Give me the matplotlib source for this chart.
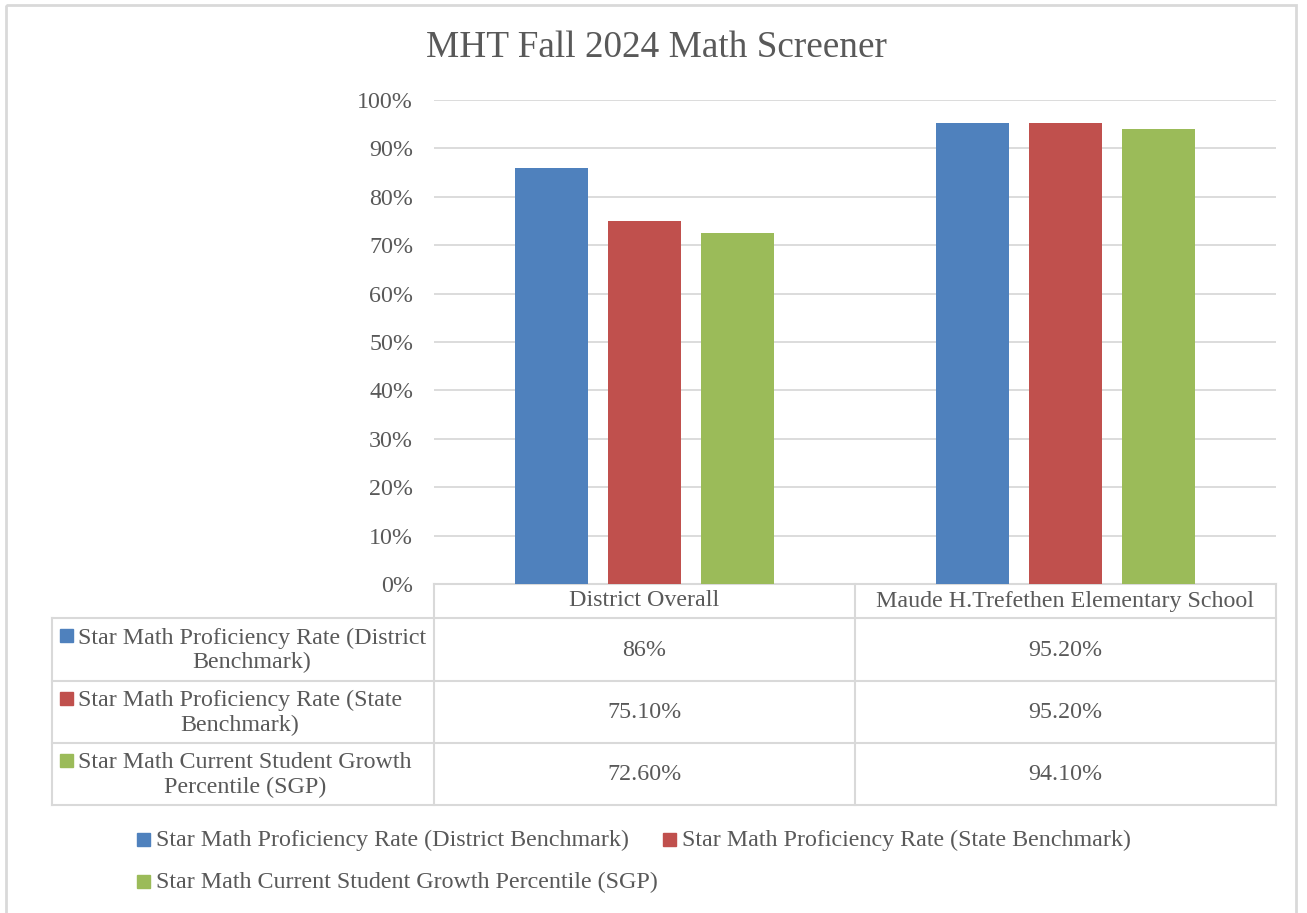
import numpy as np
import matplotlib
matplotlib.use("Agg")
import matplotlib.pyplot as plt
from matplotlib.patches import Rectangle

# -------------------------
# Data
# -------------------------
title = "MHT Fall 2024 Math Screener"
categories = ["District Overall", "Maude H.Trefethen Elementary School"]
series_names = [
    "Star Math Proficiency Rate (District Benchmark)",
    "Star Math Proficiency Rate (State Benchmark)",
    "Star Math Current Student Growth Percentile (SGP)",
]
table_names = [
    "Star Math Proficiency Rate (District\nBenchmark)",
    "Star Math Proficiency Rate (State\nBenchmark)",
    "Star Math Current Student Growth\nPercentile (SGP)",
]
district_benchmark = [0.86, 0.952]
state_benchmark = [0.751, 0.952]
sgp = [0.726, 0.941]
y_ticks = [0, 0.1, 0.2, 0.3, 0.4, 0.5, 0.6, 0.7, 0.8, 0.9, 1.0]

series = [district_benchmark, state_benchmark, sgp]
colors = ["#4F81BD", "#C0504D", "#9BBB59"]
TEXT = "#595959"
GRID = "#D9D9D9"
FS = 17.3


def fmt(v):
    s = f"{v * 100:.2f}"
    if s.endswith(".00"):
        s = s[:-3]
    return s + "%"


plt.rcParams["font.family"] = ["Liberation Serif", "DejaVu Serif"]
plt.rcParams["text.color"] = TEXT

W, H = 1307, 913
fig = plt.figure(figsize=(W / 100, H / 100), dpi=100)

# overlay in pixel coordinates for frame, table and legend
ov = fig.add_axes([0, 0, 1, 1])
ov.set_xlim(0, W)
ov.set_ylim(H, 0)
ov.axis("off")
ov.add_patch(Rectangle((6, 5), 1290, 930, fill=False, ec=GRID, lw=2))

# -------------------------
# Bar plot
# -------------------------
x0, x1, ytop, ybot = 434, 1276, 100, 584
ax = fig.add_axes([x0 / W, 1 - ybot / H, (x1 - x0) / W, (ybot - ytop) / H])
x = np.arange(len(categories))
bw = 0.175
step = 0.221
for i, (vals, c) in enumerate(zip(series, colors)):
    ax.bar(x + (i - 1) * step, vals, width=bw, color=c, zorder=3)
ax.set_xlim(-0.5, len(categories) - 0.5)
ax.set_ylim(0, 1)
ax.set_yticks(y_ticks)
ax.set_yticklabels([f"{int(round(t * 100))}%" for t in y_ticks])
ax.yaxis.grid(True, color=GRID, lw=1.3, zorder=0)
ax.set_xticks([])
ax.tick_params(axis="y", length=0, pad=15, labelsize=FS, labelcolor=TEXT)
for s in ax.spines.values():
    s.set_visible(False)
ax.patch.set_alpha(0)

fig.text(0.5 * (426 + 887) / W, 1 - 48 / H, title, ha="center", va="center",
         fontsize=26.8, color=TEXT)

# -------------------------
# Data table
# -------------------------
lw = 1.5
row_y = [618, 681, 743, 805]
xl, xm = 52, 855
ov.plot([x0, x1], [ybot, ybot], color=GRID, lw=lw)
for yy in row_y:
    ov.plot([xl, x1], [yy, yy], color=GRID, lw=lw)
ov.plot([xl, xl], [row_y[0], row_y[-1]], color=GRID, lw=lw)
for xx in (x0, xm, x1):
    ov.plot([xx, xx], [ybot, row_y[-1]], color=GRID, lw=lw)

col_c = [(x0 + xm) / 2, (xm + x1) / 2]
for j, cat in enumerate(categories):
    ov.text(col_c[j], (ybot + row_y[0]) / 2, cat, ha="center", va="center",
            fontsize=FS)
for i, (name, vals, c) in enumerate(zip(table_names, series, colors)):
    yc = (row_y[i] + row_y[i + 1]) / 2
    ov.add_patch(Rectangle((60, yc - 20), 13, 13, color=c))
    ov.text(78, yc + 1, name, ha="left", va="center", multialignment="center",
            fontsize=FS, linespacing=1.2)
    for j, v in enumerate(vals):
        ov.text(col_c[j], yc + 1, fmt(v), ha="center", va="center", fontsize=FS)

# -------------------------
# Legend
# -------------------------
leg_pos = [(137, 840), (663, 840), (137, 882)]
for (lx, ly), name, c in zip(leg_pos, series_names, colors):
    ov.add_patch(Rectangle((lx, ly - 7), 13, 13, color=c))
    ov.text(lx + 19, ly, name, ha="left", va="center", fontsize=FS)

fig.savefig("out.png", dpi=100)
